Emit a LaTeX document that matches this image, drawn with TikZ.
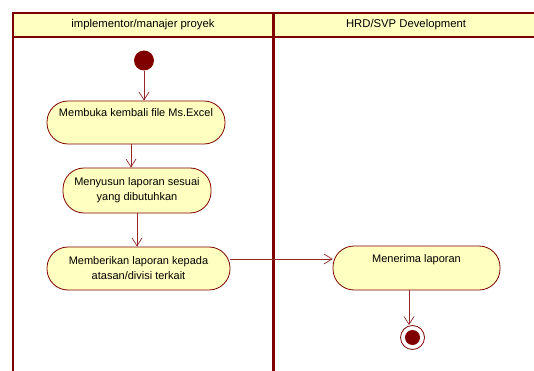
\documentclass[tikz,border=0pt]{standalone}
\usepackage{fontspec}
\setmainfont{Liberation Sans}
\usetikzlibrary{arrows.meta}
\definecolor{lanered}{HTML}{800000}
\definecolor{actfill}{HTML}{FFFFC0}
\tikzset{
  lane/.style={draw=lanered, line width=2pt},
  midlane/.style={draw=lanered, line width=3pt},
  act/.style={draw=lanered, fill=actfill, line width=0.8pt, rounded corners=21pt,
    align=center, inner sep=0pt, font=\fontsize{11}{15}\selectfont},
  flow/.style={draw=lanered!85, line width=0.7pt, -{Straight Barb[length=8pt,width=10pt]}},
  lanetitle/.style={font=\fontsize{11.3}{12}\selectfont, inner sep=0pt}
}
\begin{document}
\begin{tikzpicture}[x=1pt, y=-1pt]
  \useasboundingbox (0,0) rectangle (534,371);
  \begin{scope}
    \clip (0,0) rectangle (534,371);
    % swimlane header band
    \fill[actfill] (13,13) rectangle (540,37);
    \draw[lane] (13,13) -- (540,13);
    \draw[lane] (13,37) -- (540,37);
    % lane borders
    \draw[lane] (13,12) -- (13,375);
    \draw[midlane] (273,12) -- (273,375);
  \end{scope}
  \node[lanetitle] (laneA) at (143,25) {implementor/manajer proyek};
  \node[lanetitle] (laneB) at (406,25) {HRD/SVP Development};

  % initial node
  \node[circle, fill=lanered, minimum size=20pt, inner sep=0pt] (start) at (144,60.5) {};

  % activities
  \node[act, minimum width=178pt, minimum height=43pt] (a1) at (136,122.5)
    {Membuka kembali file Ms.Excel\\\strut};
  \node[act, minimum width=148pt, minimum height=45pt] (a2) at (137,190.5)
    {Menyusun laporan sesuai\\yang dibutuhkan};
  \node[act, minimum width=183pt, minimum height=43pt] (a3) at (138.5,268.5)
    {Memberikan laporan kepada\\atasan/divisi terkait};
  \node[act, minimum width=167pt, minimum height=44pt] (a4) at (416.5,268)
    {Menerima laporan\\\strut};

  % final node
  \node[circle, draw=lanered, line width=0.8pt, fill=white, minimum size=24pt, inner sep=0pt] (end) at (412.5,337.5) {};
  \node[circle, fill=lanered, minimum size=15pt, inner sep=0pt] (endcore) at (end.center) {};

  % control flows
  \draw[flow] (start.south) -- (start.south |- a1.north);
  \draw[flow] ([xshift=-5pt]a1.south) -- ([xshift=-6pt]a2.north);
  \draw[flow] (a2.south) -- (a2.south |- a3.north);
  \draw[flow] ([yshift=9.5pt]a3.east) -- ([yshift=9.5pt]a3.east -| a4.west);
  \draw[flow] ([xshift=-7.5pt]a4.south) -- ([xshift=-7.5pt]a4.south |- end.north);
\end{tikzpicture}
\end{document}
